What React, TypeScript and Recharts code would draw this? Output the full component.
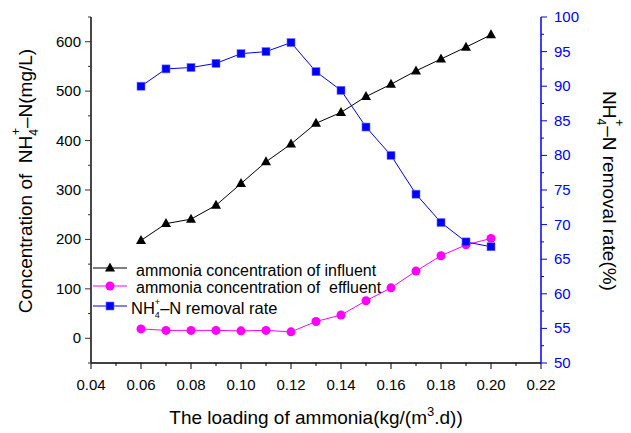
import { LineChart, Line, XAxis, YAxis } from 'recharts'

const FONT = 'Arial, "Liberation Sans", sans-serif'

// loading of ammonia, kg/(m3.d)
const loading = [0.06, 0.07, 0.08, 0.09, 0.1, 0.11, 0.12, 0.13, 0.14, 0.15, 0.16, 0.17, 0.18, 0.19, 0.2]
// mg/L
const influent = [198, 232, 241, 269, 313, 357, 393, 435, 457, 489, 514, 541, 565, 589, 614]
const effluent = [19, 16, 16, 16, 15, 16, 13, 34, 47, 76, 102, 136, 167, 189, 202]
// %
const removalRate = [90.0, 92.5, 92.7, 93.3, 94.7, 95.0, 96.3, 92.1, 89.4, 84.1, 80.0, 74.4, 70.3, 67.5, 66.8]

const xTicks = [0.04, 0.05, 0.06, 0.07, 0.08, 0.09, 0.1, 0.11, 0.12, 0.13, 0.14, 0.15, 0.16, 0.17, 0.18, 0.19, 0.2, 0.21, 0.22]
const leftTicks = [-50, 0, 50, 100, 150, 200, 250, 300, 350, 400, 450, 500, 550, 600, 650]
const rightTicks = [50, 52.5, 55, 57.5, 60, 62.5, 65, 67.5, 70, 72.5, 75, 77.5, 80, 82.5, 85, 87.5, 90, 92.5, 95, 97.5, 100]

const data = loading.map((x, i) => ({
  x,
  influent: influent[i],
  effluent: effluent[i],
  removal: removalRate[i],
}))

const BottomTick = ({ x, y, payload }: any) => {
  const v = payload.value
  const major = Math.round(v * 100) % 2 === 0
  return (
    <g>
      <line x1={x} x2={x} y1={y} y2={y + (major ? 6 : 3)} stroke="#000" />
      {major && (
        <text x={x} y={y + 27} textAnchor="middle" fontSize={15} fontFamily={FONT} fill="#000">
          {v.toFixed(2)}
        </text>
      )}
    </g>
  )
}

const TopTick = ({ x, y }: any) => <line x1={x} x2={x} y1={y} y2={y + 5} stroke="#000" />

const LeftTick = ({ x, y, payload }: any) => {
  const v = payload.value
  const major = v % 100 === 0
  return (
    <g>
      <line x1={x} x2={x - (major ? 6 : 3)} y1={y} y2={y} stroke="#333" />
      {major && v >= 0 && v <= 600 && (
        <text x={x - 10} y={y + 5} textAnchor="end" fontSize={15} fontFamily={FONT} fill="#000">
          {v}
        </text>
      )}
    </g>
  )
}

const RightTick = ({ x, y, payload }: any) => {
  const v = payload.value
  const major = v % 5 === 0
  return (
    <g>
      <line x1={x} x2={x + (major ? 6 : 3)} y1={y} y2={y} stroke="#0000ff" />
      {major && (
        <text x={x + 13} y={y + 5} textAnchor="start" fontSize={15} fontFamily={FONT} fill="#0000ff">
          {v}
        </text>
      )}
    </g>
  )
}

const triangle = (cx: number, cy: number, key?: any) => (
  <path key={key} d={`M${cx},${cy - 5.5} L${cx + 5},${cy + 3.5} L${cx - 5},${cy + 3.5} Z`} fill="#000" />
)
const square = (cx: number, cy: number, key?: any) => (
  <rect key={key} x={cx - 4} y={cy - 4} width={8} height={8} fill="#0000ff" stroke="#6f6fff" strokeWidth={0.6} />
)

export default function App() {
  return (
    <div style={{ position: 'absolute', left: 0, top: 0, width: 631, height: 433, background: '#fff' }}>
      <LineChart width={631} height={433} data={data} margin={{ top: 17, right: 0, bottom: 0, left: 0 }}>
        <XAxis
          xAxisId="bottom"
          dataKey="x"
          type="number"
          domain={[0.04, 0.22]}
          allowDataOverflow
          ticks={xTicks}
          interval={0}
          height={70}
          tickSize={0}
          tickMargin={0}
          tickLine={false}
          axisLine={{ stroke: '#000', strokeWidth: 1.5 }}
          tick={<BottomTick />}
        />
        <XAxis
          xAxisId="top"
          orientation="top"
          dataKey="x"
          type="number"
          domain={[0.04, 0.22]}
          allowDataOverflow
          ticks={xTicks}
          interval={0}
          height={0}
          tickSize={0}
          tickMargin={0}
          tickLine={false}
          axisLine={{ stroke: '#000', strokeWidth: 1.5 }}
          tick={<TopTick />}
        />
        <YAxis
          yAxisId="left"
          type="number"
          domain={[-50, 650]}
          allowDataOverflow
          ticks={leftTicks}
          interval={0}
          width={91}
          tickSize={0}
          tickMargin={0}
          tickLine={false}
          axisLine={{ stroke: '#333', strokeWidth: 1.8 }}
          tick={<LeftTick />}
        />
        <YAxis
          yAxisId="right"
          orientation="right"
          type="number"
          domain={[50, 100]}
          allowDataOverflow
          ticks={rightTicks}
          interval={0}
          width={90}
          tickSize={0}
          tickMargin={0}
          tickLine={false}
          axisLine={{ stroke: '#0000ff', strokeWidth: 1.5 }}
          tick={<RightTick />}
        />
        <Line
          xAxisId="bottom"
          yAxisId="left"
          dataKey="influent"
          stroke="#000"
          strokeWidth={1}
          dot={(p: any) => triangle(p.cx, p.cy, `t${p.index}`)}
          isAnimationActive={false}
        />
        <Line
          xAxisId="bottom"
          yAxisId="left"
          dataKey="effluent"
          stroke="#ff00ff"
          strokeWidth={1}
          dot={{ r: 4.5, fill: '#ff00ff', stroke: 'none' }}
          isAnimationActive={false}
        />
        <Line
          xAxisId="bottom"
          yAxisId="right"
          dataKey="removal"
          stroke="#0000ff"
          strokeWidth={1}
          dot={(p: any) => square(p.cx, p.cy, `s${p.index}`)}
          isAnimationActive={false}
        />
      </LineChart>

      {/* titles and legend */}
      <svg
        width={631}
        height={433}
        style={{ position: 'absolute', left: 0, top: 0, pointerEvents: 'none' }}
        fontFamily={FONT}
      >
        <text x={316} y={424} textAnchor="middle" fontSize={19} fill="#000">
          The loading of ammonia(kg/(m<tspan fontSize={13} dy={-8}>3</tspan>
          <tspan dy={8}>.d))</tspan>
        </text>
        <text x={32} y={181} textAnchor="middle" fontSize={19} fill="#000" transform="rotate(-90 32 181)">
          Concentration of {'\u00a0'}NH<tspan fontSize={12} dy={6}>4</tspan>
          <tspan fontSize={12} dx={-6} dy={-18}>+</tspan>
          <tspan dy={12}>–N(mg/L)</tspan>
        </text>
        <text x={603} y={191} textAnchor="middle" fontSize={19} fill="#000" transform="rotate(90 603 191)">
          NH<tspan fontSize={12} dy={6}>4</tspan>
          <tspan fontSize={12} dx={-6} dy={-18}>+</tspan>
          <tspan dy={12}>–N removal rate(%)</tspan>
        </text>

        <line x1={93} x2={127} y1={268} y2={268} stroke="#000" />
        {triangle(110, 268)}
        <text x={136} y={276} fontSize={16} fill="#000">ammonia concentration of influent</text>

        <line x1={93} x2={127} y1={286} y2={286} stroke="#ff00ff" />
        <circle cx={110} cy={286} r={4.5} fill="#ff00ff" />
        <text x={136} y={293} fontSize={16} fill="#000">ammonia concentration of {'\u00a0'}effluent</text>

        <line x1={93} x2={127} y1={306} y2={306} stroke="#0000ff" />
        {square(110, 306)}
        <text x={131} y={314} fontSize={16.5} fill="#000">
          NH<tspan fontSize={9} dy={4}>4</tspan>
          <tspan fontSize={9} dx={-5} dy={-13}>+</tspan>
          <tspan dy={9}>–N removal rate</tspan>
        </text>
      </svg>
    </div>
  )
}
